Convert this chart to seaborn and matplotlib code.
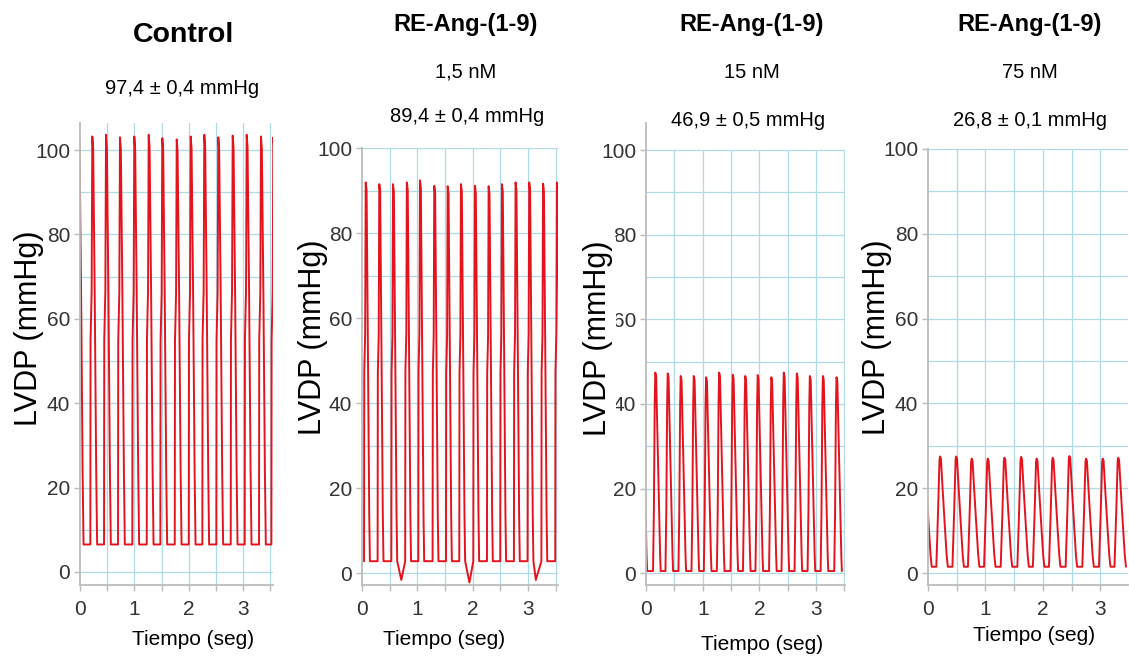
import matplotlib
matplotlib.use("Agg")
import matplotlib.pyplot as plt
import numpy as np
import pandas as pd
import seaborn as sns

# ---------------- data ----------------
titles = ["Control", "RE-Ang-(1-9)", "RE-Ang-(1-9)", "RE-Ang-(1-9)"]
doses = ["", "1,5 nM", "15 nM", "75 nM"]
lvdp_text = ["97,4 ± 0,4 mmHg", "89,4 ± 0,4 mmHg", "46,9 ± 0,5 mmHg", "26,8 ± 0,1 mmHg"]
x_label = "Tiempo (seg)"
y_label = "LVDP (mmHg)"
x_ticks = [0, 1, 2, 3]
y_ticks = [0, 20, 40, 60, 80, 100]

# peak times (s) and peak pressures (mmHg) of each beat
control_peak_t = [-0.024, 0.226, 0.478, 0.735, 0.998, 1.263, 1.513, 1.778,
                  2.035, 2.285, 2.542, 2.807, 3.064, 3.327, 3.554]
control_peak_v = [103.2, 103.2, 103.6, 103.0, 103.2, 103.6, 102.8, 102.5,
                  103.2, 103.6, 103.0, 103.4, 103.6, 103.2, 103.0]
control_trough = 6.5

nm15_peak_t = [0.067, 0.312, 0.560, 0.810, 1.047, 1.305, 1.547, 1.787,
               2.040, 2.287, 2.527, 2.774, 3.020, 3.270, 3.520]
nm15_peak_v = [91.9, 91.5, 91.5, 91.9, 92.4, 91.1, 91.0, 91.5,
               91.1, 91.0, 91.5, 91.9, 91.9, 91.6, 91.9]
nm15_trough = 2.8
nm15_dip_t = [0.71, 1.94, 3.14]
nm15_dip_v = [-1.6, -2.2, -1.6]

n15_peak_t = [-0.075, 0.164, 0.383, 0.612, 0.842, 1.060, 1.290, 1.530, 1.750,
              1.970, 2.210, 2.430, 2.660, 2.890, 3.120, 3.360]
n15_peak_v = [47.0, 47.4, 47.2, 46.6, 46.6, 46.3, 47.4, 46.9, 46.6,
              46.8, 46.3, 47.4, 47.2, 46.6, 46.6, 46.3]
n15_trough = 0.5

n75_peak_t = [-0.070, 0.210, 0.490, 0.760, 1.040, 1.330, 1.620, 1.890,
              2.170, 2.460, 2.750, 3.040, 3.310]
n75_peak_v = [27.5, 27.5, 27.5, 27.0, 27.0, 27.2, 27.4, 27.0,
              27.2, 27.6, 27.0, 27.0, 27.2]
n75_trough = 1.5

# beat shape: time offset from onset (s), fraction of amplitude
control_shape_dt = [0.0, 0.004, 0.024, 0.036, 0.052, 0.080, 0.108, 0.125]
control_shape_f = [0.0, 0.50, 0.62, 1.00, 0.97, 0.62, 0.18, 0.0]
nm15_shape_dt = [0.0, 0.004, 0.020, 0.030, 0.046, 0.072, 0.094, 0.106]
nm15_shape_f = [0.0, 0.50, 0.60, 1.00, 0.98, 0.52, 0.12, 0.0]
n15_shape_dt = [0.0, 0.015, 0.030, 0.040, 0.055, 0.080, 0.105, 0.125, 0.135]
n15_shape_f = [0.0, 0.30, 0.85, 1.00, 0.98, 0.65, 0.30, 0.08, 0.0]
n75_shape_dt = [0.0, 0.030, 0.055, 0.065, 0.080, 0.110, 0.150, 0.180, 0.200]
n75_shape_f = [0.0, 0.50, 0.97, 1.00, 0.98, 0.70, 0.35, 0.10, 0.0]

# ---------------- build traces ----------------
def build_trace(peak_t, peak_v, trough, shape_dt, shape_f, dip_t=(), dip_v=()):
    dt = np.asarray(shape_dt)
    f = np.asarray(shape_f)
    t_peak_off = dt[np.argmax(f)]
    ts, vs = [], []
    for tp, vp in zip(peak_t, peak_v):
        onset = tp - t_peak_off
        ts.extend(onset + dt)
        vs.extend(trough + f * (vp - trough))
    ts.extend(dip_t)
    vs.extend(dip_v)
    df = pd.DataFrame({"t": ts, "v": vs}).sort_values("t").reset_index(drop=True)
    return df

panels = [
    dict(df=build_trace(control_peak_t, control_peak_v, control_trough,
                        control_shape_dt, control_shape_f),
         box=(80, 273, 123, 585), ylim=(-3.1, 106.4), xlim=(0, 3.548),
         ylab=(-0.264, 0.556), xlab=(0.585, -0.097), ybox=False, vtop=None),
    dict(df=build_trace(nm15_peak_t, nm15_peak_v, nm15_trough,
                        nm15_shape_dt, nm15_shape_f, nm15_dip_t, nm15_dip_v),
         box=(362, 558, 148, 585), ylim=(-2.8, 100), xlim=(0, 3.54),
         ylab=(-0.250, 0.567), xlab=(0.418, -0.103), ybox=False, vtop=None),
    dict(df=build_trace(n15_peak_t, n15_peak_v, n15_trough,
                        n15_shape_dt, n15_shape_f),
         box=(646, 845, 123, 585), ylim=(-2.8, 106.4), xlim=(0, 3.51),
         ylab=(-0.241, 0.535), xlab=(0.583, -0.108), ybox=True, vtop=100),
    dict(df=build_trace(n75_peak_t, n75_peak_v, n75_trough,
                        n75_shape_dt, n75_shape_f),
         box=(928, 1128, 149, 585), ylim=(-2.8, 100), xlim=(0, 3.48),
         ylab=(-0.255, 0.569), xlab=(0.530, -0.094), ybox=False, vtop=None),
]

# ---------------- figure ----------------
W, H = 1129, 656
sns.set_theme(style="white")
plt.rcParams["font.family"] = ["Liberation Sans", "DejaVu Sans"]
fig = plt.figure(figsize=(W / 100, H / 100), dpi=100)

trace_color = "#e3141e"
grid_color = "#aedbe6"
spine_color = "#bcbcbc"
text_dark = "#333333"

for p in panels:
    l, r, t, b = p["box"]
    ax = fig.add_axes([l / W, 1 - b / H, (r - l) / W, (b - t) / H])
    ax.set_xlim(*p["xlim"])
    ax.set_ylim(*p["ylim"])
    ax.grid(False)
    # light-blue chart-paper grid
    y0, y1 = p["ylim"]
    vt = 1.0 if p["vtop"] is None else (p["vtop"] - y0) / (y1 - y0)
    for gy in range(0, 101, 10):
        ax.axhline(gy, color=grid_color, lw=0.9, zorder=0)
    for gx in np.arange(0.5, p["xlim"][1], 0.5):
        ax.axvline(gx, ymin=0, ymax=vt, color=grid_color, lw=0.9, zorder=0)
    sns.lineplot(data=p["df"], x="t", y="v", sort=False, estimator=None,
                 color=trace_color, lw=1.4, ax=ax, zorder=3)
    ax.set_xticks(x_ticks)
    ax.set_xticks(np.arange(0.5, p["xlim"][1], 1.0), minor=True)
    ax.set_yticks(y_ticks)
    ax.tick_params(axis="x", which="both", length=4, width=1, color=spine_color,
                   labelsize=15, labelcolor=text_dark, pad=7, bottom=True)
    ax.tick_params(axis="y", which="major", length=4, width=1, color=spine_color,
                   labelsize=15, labelcolor=text_dark, pad=3, left=True)
    for s in ("top", "right"):
        ax.spines[s].set_visible(False)
    for s in ("left", "bottom"):
        ax.spines[s].set_color(spine_color)
        ax.spines[s].set_linewidth(1.3)
        ax.spines[s].set_zorder(4)
    ax.set_xlabel(x_label, fontsize=15, color="black")
    ax.xaxis.set_label_coords(*p["xlab"])
    ax.set_ylabel(y_label, fontsize=22, color="black")
    ax.yaxis.label.set_verticalalignment("center")
    ax.yaxis.set_label_coords(*p["ylab"])
    if p["ybox"]:
        ax.yaxis.label.set_bbox(dict(facecolor="white", edgecolor="none", pad=2.5))
    ax.set_facecolor("white")

def ftext(x, y, s, **kw):
    fig.text(x / W, 1 - y / H, s, ha="center", va="center", color="black", **kw)

# titles and annotations
ftext(183, 35, titles[0], fontsize=20.5, fontweight="bold")
ftext(182, 88, lvdp_text[0], fontsize=14.5)
for cx, title, dose, val, vx, vy in [(466, titles[1], doses[1], lvdp_text[1], 467, 117),
                                     (752, titles[2], doses[2], lvdp_text[2], 748, 120),
                                     (1030, titles[3], doses[3], lvdp_text[3], 1030, 121)]:
    ftext(cx, 25, title, fontsize=17, fontweight="bold")
    ftext(cx, 72, dose, fontsize=14.5)
    ftext(vx, vy, val, fontsize=14.5)

fig.savefig("out.png", dpi=100, facecolor="white")
